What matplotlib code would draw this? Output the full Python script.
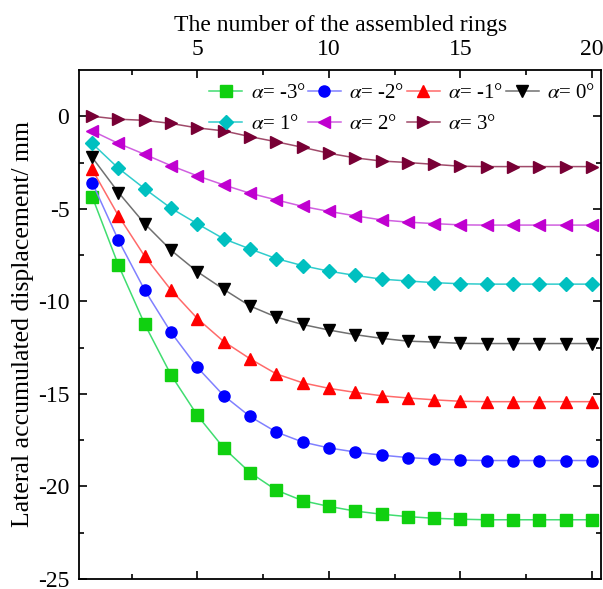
import matplotlib
matplotlib.use("Agg")
import matplotlib.pyplot as plt
import numpy as np

plt.rcParams['font.family'] = ['Liberation Serif', 'DejaVu Serif']
plt.rcParams['mathtext.fontset'] = 'stix'
plt.rcParams['axes.unicode_minus'] = False

# number of assembled rings
rings = np.arange(1, 21)

angles = ['-3', '-2', '-1', '0', '1', '2', '3']

# lateral accumulated displacement (mm)
disp_m3 = [-4.34, -8.05, -11.24, -13.98, -16.16, -17.92, -19.25, -20.2, -20.77, -21.08,
           -21.33, -21.5, -21.63, -21.72, -21.77, -21.8, -21.8, -21.8, -21.8, -21.8]
disp_m2 = [-3.58, -6.7, -9.4, -11.68, -13.57, -15.09, -16.22, -17.06, -17.6, -17.92,
           -18.14, -18.31, -18.44, -18.52, -18.58, -18.6, -18.6, -18.6, -18.6, -18.6]
disp_m1 = [-2.87, -5.38, -7.57, -9.39, -10.93, -12.17, -13.1, -13.92, -14.4, -14.7,
           -14.92, -15.1, -15.22, -15.32, -15.4, -15.42, -15.42, -15.42, -15.42, -15.42]
disp_0 = [-2.22, -4.12, -5.81, -7.24, -8.4, -9.35, -10.25, -10.85, -11.25, -11.55,
          -11.8, -12.0, -12.15, -12.2, -12.27, -12.28, -12.28, -12.28, -12.28, -12.28]
disp_p1 = [-1.47, -2.81, -3.92, -4.97, -5.81, -6.62, -7.17, -7.69, -8.07, -8.37,
           -8.6, -8.8, -8.9, -8.99, -9.05, -9.07, -9.07, -9.07, -9.07, -9.07]
disp_p2 = [-0.79, -1.47, -2.06, -2.67, -3.22, -3.71, -4.16, -4.52, -4.87, -5.14,
           -5.38, -5.6, -5.72, -5.8, -5.87, -5.88, -5.88, -5.88, -5.88, -5.88]
disp_p3 = [0.0, -0.16, -0.22, -0.39, -0.63, -0.79, -1.1, -1.38, -1.68, -2.0,
           -2.25, -2.42, -2.5, -2.6, -2.7, -2.72, -2.72, -2.72, -2.72, -2.72]

series = [disp_m3, disp_m2, disp_m1, disp_0, disp_p1, disp_p2, disp_p3]

# (marker, marker colour, line colour)
styles = [
    ('s', '#10d010', '#40dd70'),
    ('o', '#0000ff', '#8080ff'),
    ('^', '#ff0000', '#ff6a6a'),
    ('v', '#000000', '#707070'),
    ('D', '#00c0c0', '#30cccc'),
    ('<', '#c000d0', '#d060e0'),
    ('>', '#780035', '#a04a6a'),
]

fig = plt.figure(figsize=(6.03, 5.89), dpi=100)
ax = fig.add_axes([0.131, 0.017, 0.866, 0.8642])

handles = []
for ang, vals, (mk, mc, lc) in zip(angles, series, styles):
    ms = 7 if mk == 'D' else 8
    h, = ax.plot(rings, vals, color=lc, lw=1.1, marker=mk, ms=ms,
                 markerfacecolor=mc, markeredgecolor=mc,
                 label=r'$\alpha$= ' + ang + '°')
    handles.append(h)

ax.set_xlim(0.5, 20.35)
ax.set_ylim(-25, 2.5)

ax.set_xticks([5, 10, 15, 20])
ax.set_xticks([2.5, 7.5, 12.5, 17.5], minor=True)
ax.set_yticks([0, -5, -10, -15, -20, -25])
ax.set_yticks([-2.5, -7.5, -12.5, -17.5, -22.5], minor=True)

ax.xaxis.set_ticks_position('both')
ax.yaxis.set_ticks_position('both')
ax.tick_params(which='both', direction='in', labelsize=17,
               labeltop=True, labelbottom=False, labelleft=True, labelright=False)
ax.tick_params(which='major', length=6, width=1.2)
ax.tick_params(which='minor', length=3.5, width=1.2)
ax.tick_params(axis='x', pad=7)
ax.tick_params(axis='y', pad=7)
for sp in ax.spines.values():
    sp.set_linewidth(1.3)

ax.xaxis.set_label_position('top')
ax.set_xlabel('The number of the assembled rings', fontsize=17, labelpad=6)
ax.set_ylabel('Lateral accumulated displacement/ mm', fontsize=18.5, labelpad=3)

# column-major fill: row 1 = -3..0, row 2 = 1..3
order = [0, 4, 1, 5, 2, 6, 3]
ax.legend([handles[i] for i in order], [handles[i].get_label() for i in order],
          ncol=4, loc='upper right', bbox_to_anchor=(1.005, 0.99), frameon=False,
          fontsize=15, handlelength=1.6, handletextpad=0.4, columnspacing=0.1,
          labelspacing=0.55, borderaxespad=0.2, borderpad=0.2)

fig.savefig('out.png', dpi=100)
